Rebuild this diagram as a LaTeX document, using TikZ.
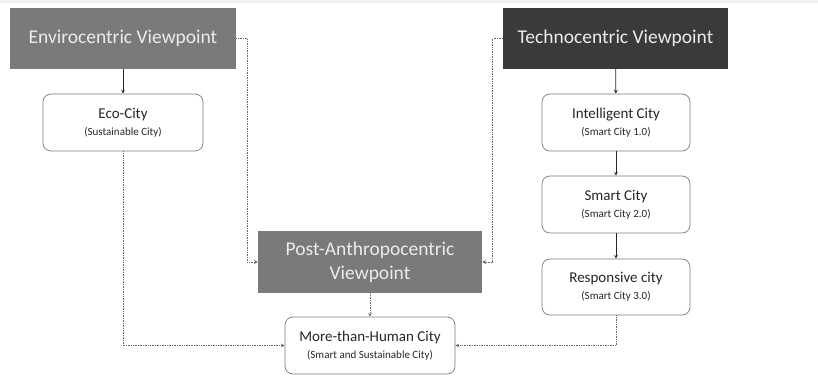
\documentclass[tikz,border=0pt]{standalone}
\usepackage{fontspec}
\setmainfont{Carlito}
\usepackage{tikz}
\usetikzlibrary{arrows}
\definecolor{viewgray}{HTML}{7A7A7A}
\definecolor{viewdark}{HTML}{3A3A3A}
\definecolor{viewtext}{HTML}{ECECEC}
\definecolor{cityline}{HTML}{7C7C7C}

\newcommand{\subline}[1]{{\fontsize{11}{13}\selectfont #1}}

\begin{document}
\begin{tikzpicture}[x=1pt,y=1pt,
  viewpoint/.style={draw=none, fill=viewgray, text=viewtext, align=center, font=\fontsize{19.5}{24}\selectfont, inner sep=0pt},
  city/.style={draw=cityline, rounded corners=8pt, fill=white, align=center, text=black!85, font=\fontsize{15}{17}\selectfont, inner sep=0pt, line width=0.7pt},
  solidarrow/.style={-stealth, black!85, line width=0.7pt},
  dotarrow/.style={-stealth, densely dotted, black!60, line width=0.7pt}]
\useasboundingbox (0,0) rectangle (818,385);
\fill[black!6] (0,382) rectangle (818,385); % top strip

% viewpoints
\node[viewpoint, minimum width=226, minimum height=61] (env) at (123,346.5) {Envirocentric Viewpoint};
\node[viewpoint, fill=viewdark, minimum width=225, minimum height=61] (tech) at (615.5,346.5) {Technocentric Viewpoint};
\node[viewpoint, minimum width=224, minimum height=62] (post) at (370,123) {Post-Anthropocentric\\Viewpoint};

% cities
\node[city, minimum width=160, minimum height=57] (eco) at (123,262.5) {Eco-City\\\subline{(Sustainable City)}};
\node[city, minimum width=148, minimum height=57] (intel) at (616,262.5) {Intelligent City\\\subline{(Smart City 1.0)}};
\node[city, minimum width=148, minimum height=57] (smart) at (616,180.5) {Smart City\\\subline{(Smart City 2.0)}};
\node[city, minimum width=148, minimum height=56] (resp) at (616,98) {Responsive city\\\subline{(Smart City 3.0)}};
\node[city, minimum width=170, minimum height=57] (more) at (370,39.5) {More-than-Human City\\\subline{(Smart and Sustainable City)}};

% solid links
\draw[solidarrow] (env) -- (eco);
\draw[solidarrow] (tech) -- (intel);
\draw[solidarrow] (intel) -- (smart);
\draw[solidarrow] (smart) -- (resp);

% dotted links
\draw[dotarrow] (env.east) -- ++(11,0) |- (post.west);
\draw[dotarrow] (tech.west) -- ++(-10,0) |- (post.east);
\draw[dotarrow] (post) -- (more);
\draw[dotarrow] (eco.south) |- (more.west);
\draw[dotarrow] (resp.south) |- (more.east);

\end{tikzpicture}
\end{document}
